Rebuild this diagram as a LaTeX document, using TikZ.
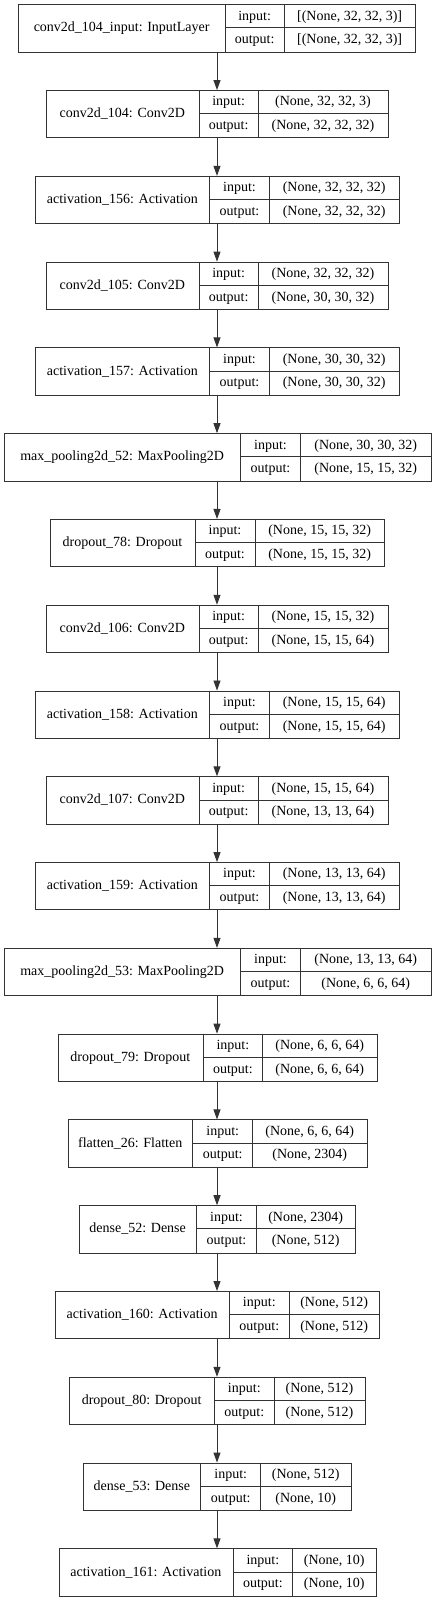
\documentclass[tikz,border=0pt]{standalone}
\usepackage{fontspec}
\setmainfont{Liberation Serif}
\usetikzlibrary{arrows.meta}
\newcommand\mklayer[9]{% #1 id, #2 index, #3 L, #4 D1, #5 D2, #6 R, #7 label, #8 in, #9 out
  \pgfmathsetmacro\yt{4.3+#2*85.78}
  \pgfmathsetmacro\yb{\yt+47.3}
  \pgfmathsetmacro\ym{\yt+23.65}
  \node[boxframe, anchor=north west, minimum width={(#6-#3)*1pt}] (n#1) at (#3,\yt) {};
  \draw[frame] (#4,\yt) -- (#4,\yb);
  \draw[frame] (#5,\yt) -- (#5,\yb);
  \draw[frame] (#4,\ym) -- (#6,\ym);
  \node[txt] (l#1) at ({(#3+#4)/2},\ym) {#7};
  \node[txt] (ik#1) at ({(#4+#5)/2},{(\yt+\ym)/2}) {input:};
  \node[txt] (ok#1) at ({(#4+#5)/2},{(\ym+\yb)/2}) {output:};
  \node[txt] (iv#1) at ({(#5+#6)/2},{(\yt+\ym)/2}) {#8};
  \node[txt] (ov#1) at ({(#5+#6)/2},{(\ym+\yb)/2}) {#9};
  \coordinate (t#1) at (217,\yt);
  \coordinate (b#1) at (217,\yb);
}
\begin{document}
\begin{tikzpicture}[x=1pt,y=-1pt,
  frame/.style={draw=black!80, line width=0.9pt},
  boxframe/.style={frame, rectangle, inner sep=0pt, minimum height=47.3pt},
  txt/.style={inner sep=0pt, text height=10pt, text depth=2pt, font=\fontsize{14}{16}\selectfont},
  arr/.style={draw=black!80, line width=0.9pt, -{Triangle[length=10pt,width=7pt]}, shorten >=0pt}]
\useasboundingbox (0,0) rectangle (434,1600);
\mklayer{0}{0}{18.3}{225}{284.3}{415}{conv2d\_104\_input: InputLayer}{[(None, 32, 32, 3)]}{[(None, 32, 32, 3)]}
\mklayer{1}{1}{45.7}{199}{258.3}{387.7}{conv2d\_104: Conv2D}{(None, 32, 32, 3)}{(None, 32, 32, 32)}
\mklayer{2}{2}{35}{209.7}{269.3}{399}{activation\_156: Activation}{(None, 32, 32, 32)}{(None, 32, 32, 32)}
\mklayer{3}{3}{45.7}{199}{258.3}{387.7}{conv2d\_105: Conv2D}{(None, 32, 32, 32)}{(None, 30, 30, 32)}
\mklayer{4}{4}{35}{209.7}{269.3}{399}{activation\_157: Activation}{(None, 30, 30, 32)}{(None, 30, 30, 32)}
\mklayer{5}{5}{4}{240.3}{300.7}{430.7}{max\_pooling2d\_52: MaxPooling2D}{(None, 30, 30, 32)}{(None, 15, 15, 32)}
\mklayer{6}{6}{50}{195}{255}{384.3}{dropout\_78: Dropout}{(None, 15, 15, 32)}{(None, 15, 15, 32)}
\mklayer{7}{7}{45.7}{199}{258.3}{387.7}{conv2d\_106: Conv2D}{(None, 15, 15, 32)}{(None, 15, 15, 64)}
\mklayer{8}{8}{35}{209.7}{269.3}{399}{activation\_158: Activation}{(None, 15, 15, 64)}{(None, 15, 15, 64)}
\mklayer{9}{9}{45.7}{199}{258.3}{387.7}{conv2d\_107: Conv2D}{(None, 15, 15, 64)}{(None, 13, 13, 64)}
\mklayer{10}{10}{35}{209.7}{269.3}{399}{activation\_159: Activation}{(None, 13, 13, 64)}{(None, 13, 13, 64)}
\mklayer{11}{11}{4}{240.3}{300.7}{430.7}{max\_pooling2d\_53: MaxPooling2D}{(None, 13, 13, 64)}{(None, 6, 6, 64)}
\mklayer{12}{12}{57.7}{203}{262.7}{376.7}{dropout\_79: Dropout}{(None, 6, 6, 64)}{(None, 6, 6, 64)}
\mklayer{13}{13}{67.7}{192.7}{252.7}{366.7}{flatten\_26: Flatten}{(None, 6, 6, 64)}{(None, 2304)}
\mklayer{14}{14}{78.7}{196.7}{256.3}{355}{dense\_52: Dense}{(None, 2304)}{(None, 512)}
\mklayer{15}{15}{55}{229.3}{289.3}{379}{activation\_160: Activation}{(None, 512)}{(None, 512)}
\mklayer{16}{16}{69}{214.3}{274.3}{364.7}{dropout\_80: Dropout}{(None, 512)}{(None, 512)}
\mklayer{17}{17}{83}{200.7}{260.7}{350.7}{dense\_53: Dense}{(None, 512)}{(None, 10)}
\mklayer{18}{18}{58.7}{233}{292.7}{375.7}{activation\_161: Activation}{(None, 10)}{(None, 10)}
\foreach \i [evaluate=\i as \j using int(\i+1)] in {0,...,17} {
  \draw[arr] (b\i) -- (t\j);
}
\end{tikzpicture}
\end{document}
